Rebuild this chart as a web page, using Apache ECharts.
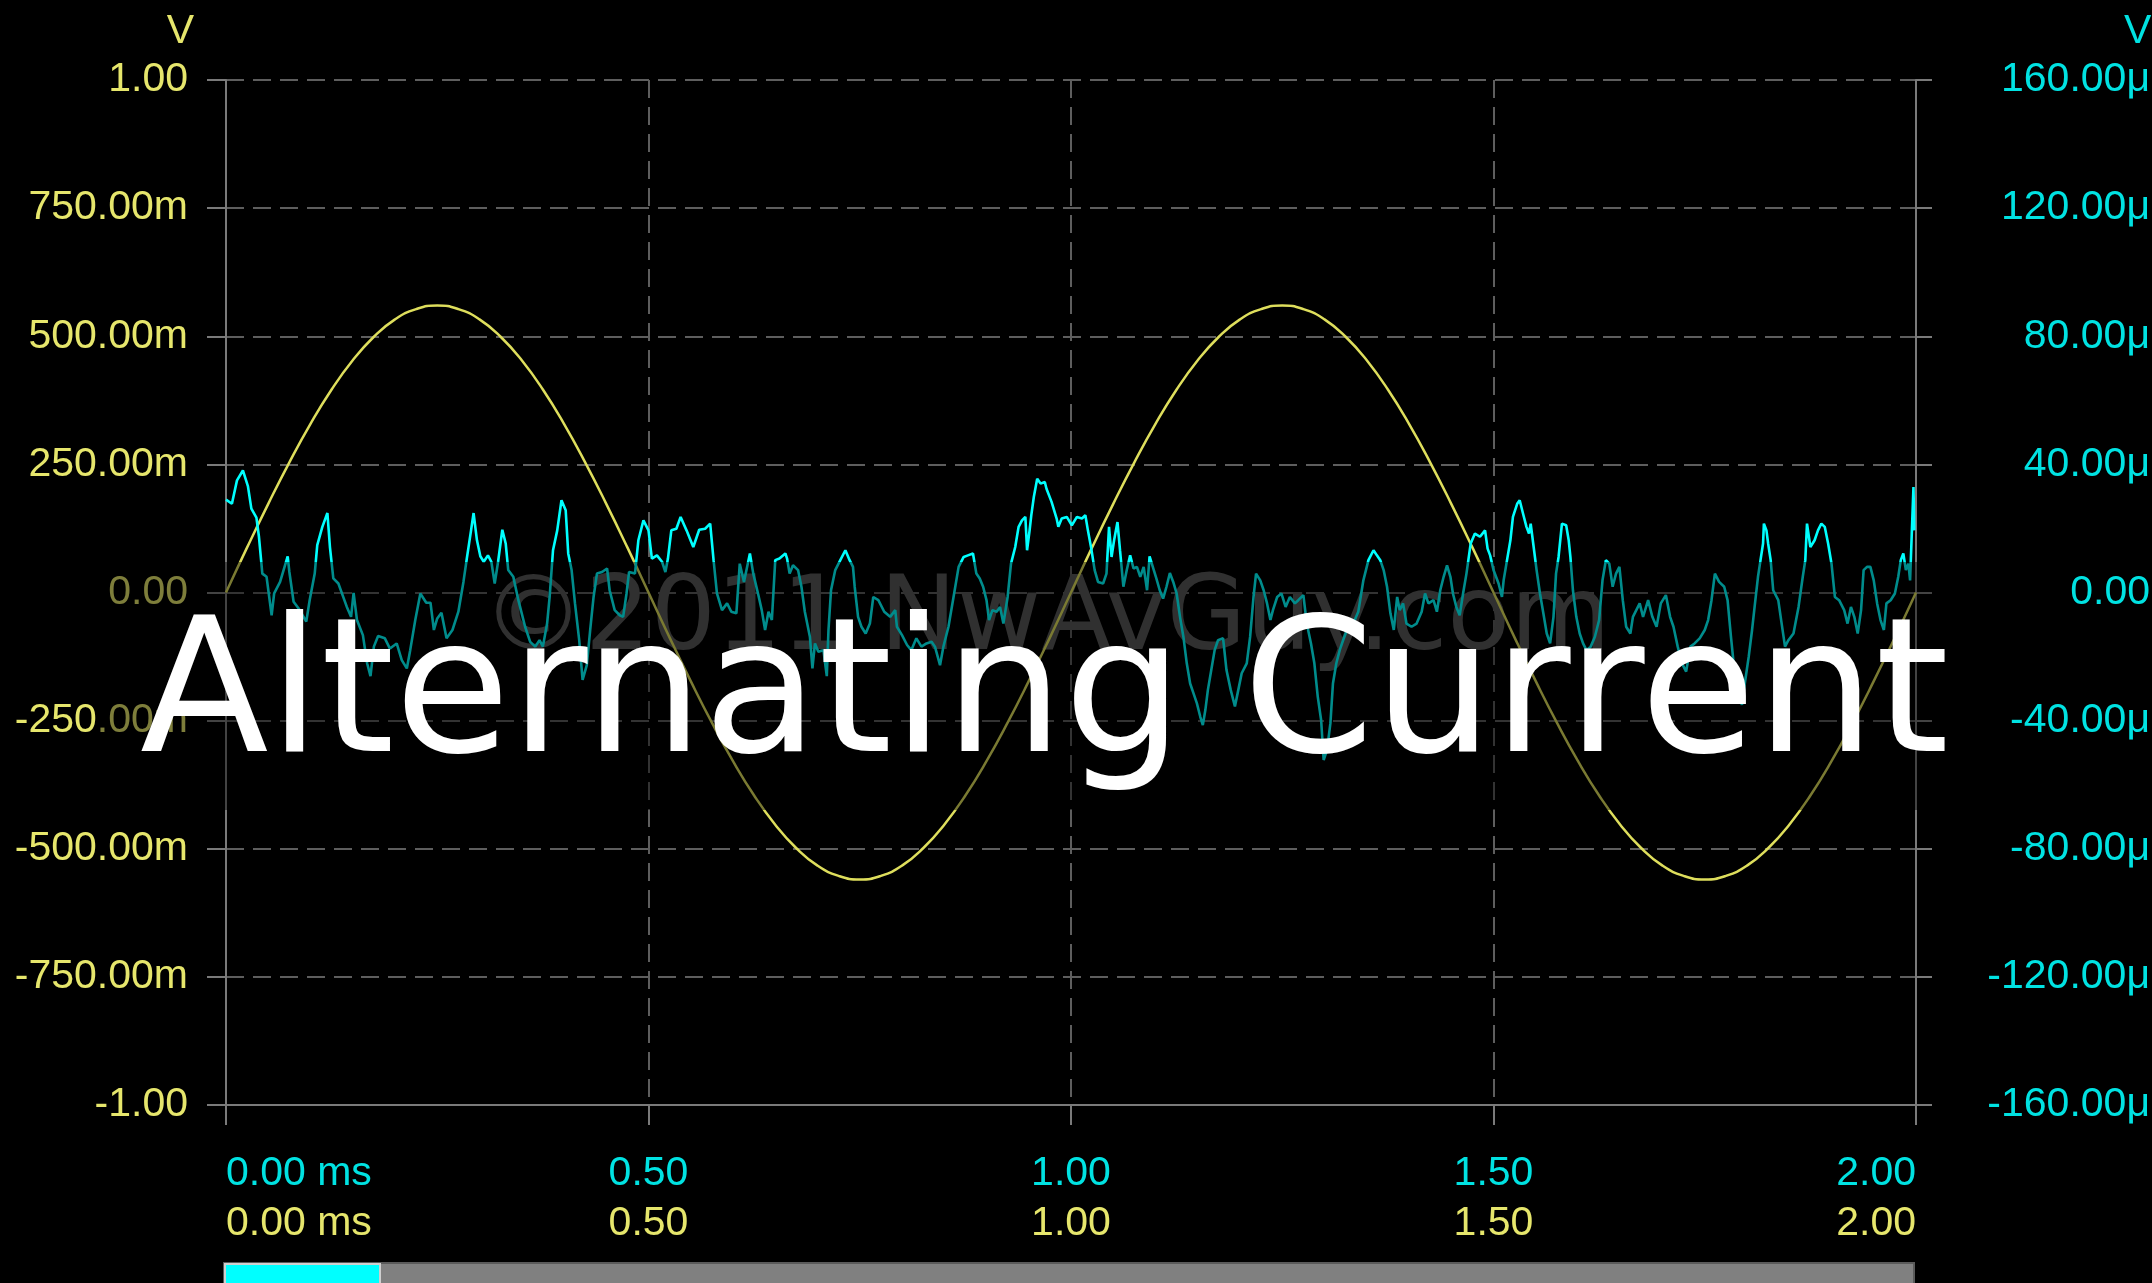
<!DOCTYPE html>
<html>
<head>
<meta charset="utf-8">
<title>Alternating Current</title>
<script src="https://cdn.jsdelivr.net/npm/echarts/dist/echarts.min.js"></script>
<style>
  html, body { margin: 0; padding: 0; background: #000; }
  #chart { width: 2152px; height: 1283px; }
</style>
</head>
<body>
<div id="chart"></div>
<script>
// Channel A: 1 kHz sine (volts, left axis)
const sineStepMs = 0.025;
const sineVolts = [
  0, 0.088, 0.173, 0.254, 0.329, 0.396, 0.453, 0.499, 0.533, 0.553,
  0.560, 0.553, 0.533, 0.499, 0.453, 0.396, 0.329, 0.254, 0.173, 0.088,
  0, -0.088, -0.173, -0.254, -0.329, -0.396, -0.453, -0.499, -0.533, -0.553,
  -0.560, -0.553, -0.533, -0.499, -0.453, -0.396, -0.329, -0.254, -0.173, -0.088,
  0, 0.088, 0.173, 0.254, 0.329, 0.396, 0.453, 0.499, 0.533, 0.553,
  0.560, 0.553, 0.533, 0.499, 0.453, 0.396, 0.329, 0.254, 0.173, 0.088,
  0, -0.088, -0.173, -0.254, -0.329, -0.396, -0.453, -0.499, -0.533, -0.553,
  -0.560, -0.553, -0.533, -0.499, -0.453, -0.396, -0.329, -0.254, -0.173, -0.088,
  0
];

// Channel B: residual noise (microvolts, right axis)
const noiseTimeMs = [
  0.000, 0.007, 0.013, 0.020, 0.026, 0.030, 0.036, 0.039, 0.043, 0.048,
  0.054, 0.057, 0.064, 0.073, 0.075, 0.080, 0.086, 0.095, 0.099, 0.105,
  0.108, 0.114, 0.120, 0.123, 0.127, 0.133, 0.143, 0.148, 0.151, 0.155,
  0.162, 0.167, 0.171, 0.175, 0.180, 0.188, 0.194, 0.202, 0.208, 0.214,
  0.218, 0.224, 0.230, 0.237, 0.242, 0.246, 0.250, 0.255, 0.261, 0.268,
  0.275, 0.281, 0.285, 0.290, 0.293, 0.297, 0.301, 0.305, 0.310,
  0.314, 0.318, 0.322, 0.327, 0.331, 0.334, 0.340, 0.346, 0.354, 0.360,
  0.366, 0.371, 0.375, 0.380, 0.383, 0.387, 0.392, 0.397, 0.402, 0.405,
  0.409, 0.413, 0.418, 0.422, 0.427, 0.431, 0.435, 0.439, 0.445, 0.451,
  0.454, 0.460, 0.466, 0.470, 0.474, 0.477, 0.484, 0.488, 0.494, 0.500,
  0.504, 0.510, 0.516, 0.520, 0.523, 0.527, 0.533, 0.538, 0.545, 0.553,
  0.560, 0.567, 0.573, 0.577, 0.581, 0.587, 0.593, 0.598, 0.604, 0.608,
  0.613, 0.620, 0.624, 0.630, 0.634, 0.638,
  0.642, 0.646, 0.650, 0.655, 0.662, 0.664, 0.667, 0.671, 0.677, 0.681,
  0.685, 0.691, 0.694, 0.697, 0.701, 0.707, 0.711, 0.713, 0.716, 0.721,
  0.727, 0.733, 0.738, 0.742, 0.744, 0.748, 0.752, 0.757, 0.762, 0.766,
  0.772, 0.779, 0.786, 0.792, 0.794, 0.800, 0.806, 0.811, 0.817, 0.823,
  0.829, 0.835, 0.839, 0.845, 0.849, 0.855, 0.861, 0.867, 0.873, 0.878,
  0.884, 0.888, 0.892, 0.896, 0.900, 0.903, 0.907, 0.912, 0.916, 0.920,
  0.925, 0.929, 0.934, 0.938, 0.942, 0.946, 0.948, 0.951, 0.953, 0.956,
  0.960, 0.964, 0.969,
  0.971, 0.977, 0.983, 0.985, 0.989, 0.995, 1.001, 1.007, 1.013, 1.017,
  1.020, 1.024, 1.028, 1.032, 1.038, 1.042, 1.045, 1.048, 1.051, 1.055,
  1.058, 1.062, 1.066, 1.070, 1.074, 1.078, 1.082, 1.086, 1.090, 1.093,
  1.098, 1.101, 1.105, 1.109, 1.113, 1.117, 1.121, 1.125, 1.129, 1.133,
  1.137, 1.141, 1.145, 1.149, 1.153, 1.156, 1.159, 1.162, 1.166, 1.170,
  1.174, 1.180, 1.184, 1.189, 1.194, 1.198, 1.202, 1.208, 1.212, 1.216,
  1.219, 1.224, 1.228, 1.232, 1.236, 1.239, 1.244, 1.249, 1.254, 1.259,
  1.265, 1.269, 1.275, 1.279, 1.284, 1.288, 1.292, 1.296, 1.299,
  1.303, 1.307, 1.310, 1.314, 1.318, 1.322, 1.328, 1.334, 1.340, 1.346,
  1.352, 1.358, 1.362, 1.366, 1.370, 1.374, 1.378, 1.382, 1.386, 1.389,
  1.393, 1.397, 1.403, 1.409, 1.415, 1.419, 1.423, 1.429, 1.433, 1.437,
  1.441, 1.445, 1.449, 1.452, 1.456, 1.460, 1.464, 1.468, 1.473, 1.478,
  1.484, 1.490, 1.493, 1.496, 1.500, 1.506, 1.510, 1.512, 1.516, 1.520,
  1.523, 1.528, 1.531, 1.535, 1.539, 1.542, 1.544, 1.547, 1.551, 1.555,
  1.559, 1.563, 1.567, 1.571, 1.574, 1.577, 1.581, 1.586, 1.589, 1.591,
  1.594, 1.598, 1.602, 1.606, 1.610, 1.615, 1.620, 1.625, 1.629,
  1.633, 1.637, 1.641, 1.645, 1.649, 1.653, 1.657, 1.662, 1.665, 1.669,
  1.673, 1.677, 1.683, 1.688, 1.693, 1.698, 1.704, 1.709, 1.713, 1.718,
  1.723, 1.728, 1.733, 1.738, 1.744, 1.750, 1.754, 1.758, 1.762, 1.767,
  1.773, 1.777, 1.781, 1.785, 1.790, 1.794, 1.798, 1.802, 1.806, 1.809,
  1.813, 1.816, 1.819, 1.820, 1.823, 1.825, 1.828, 1.831, 1.837, 1.841,
  1.845, 1.849, 1.855, 1.861, 1.866, 1.869, 1.871, 1.875, 1.880, 1.884,
  1.888, 1.892, 1.896, 1.900, 1.904, 1.909, 1.915, 1.919, 1.923, 1.927,
  1.931, 1.935, 1.938, 1.942, 1.946, 1.950, 1.954, 1.958, 1.962, 1.965,
  1.970, 1.975, 1.979, 1.982, 1.985, 1.988, 1.991, 1.993, 1.995, 1.997,
  1.998
];
const noiseMicroVolts = [
  29.0, 27.7, 35.0, 38.1, 33.1, 26.2, 23.4, 17.4, 5.9, 4.9,
  -7.1, -0.3, 3.3, 11.3, 6.4, -2.9, -5.0, -9.1, -2.4, 5.9,
  14.8, 20.5, 24.8, 14.2, 4.4, 2.8, -4.5, -7.6, -0.1, -8.6,
  -13.3, -22.1, -26.1, -16.9, -13.6, -14.3, -17.5, -15.9, -21.1, -23.7,
  -18.0, -8.6, -0.3, -3.2, -3.2, -11.7, -8.1, -6.3, -14.3, -11.7,
  -6.0, 3.3, 10.6, 19.4, 24.8, 16.3, 11.3, 9.6, 11.6,
  9.6, 2.8, 9.6, 19.6, 15.3, 7.0, 4.9, -2.4, -10.7, -15.4,
  -16.9, -14.9, -16.9, -9.7, -1.4, 13.2, 19.4, 28.8, 25.7, 12.2,
  7.0, -3.4, -14.9, -27.3, -22.7, -11.7, -1.4, 5.9, 6.4, 7.5,
  0.7, -5.5, -7.1, -7.6, -0.3, 6.4, 5.9, 16.3, 22.5, 19.4,
  10.6, 11.6, 9.6, 6.4, 10.6, 19.4, 19.9, 23.6, 19.4, 14.2,
  19.6, 19.9, 21.5, 10.1, -0.3, -5.5, -3.4, -6.0, -6.5, 9.0,
  3.3, 12.2, 5.9, -0.8, -5.5, -11.7,
  -6.0, -8.6, 10.1, 10.6, 12.2, 10.6, 5.9, 8.5, 7.0, 1.8,
  -6.0, -13.8, -23.7, -15.9, -18.5, -18.0, -26.1, -11.7, 0.7, 7.0,
  10.1, 13.2, 10.1, 8.0, 1.8, -7.6, -10.7, -12.8, -9.7, -1.4,
  -2.4, -6.0, -7.6, -5.5, -10.7, -13.3, -16.4, -18.0, -14.3, -16.9,
  -15.9, -15.4, -16.9, -22.7, -16.9, -10.7, -1.4, 8.0, 11.1, 11.6,
  12.2, 5.9, 4.4, 1.8, -2.4, -8.6, -5.5, -6.0, -4.5, -9.7,
  -1.4, 9.0, 14.2, 20.5, 22.5, 23.6, 13.2, 19.4, 24.1, 29.8,
  35.5, 34.0, 34.5,
  32.4, 28.3, 23.1, 20.5, 23.1, 23.6, 21.0, 23.6, 23.1, 24.1,
  19.4, 13.7, 7.0, 3.3, 2.8, 5.9, 20.5, 11.1, 16.3, 22.0,
  13.2, 1.8, 7.0, 11.6, 7.5, 8.0, 4.9, 8.0, 0.7, 11.3,
  7.0, 4.4, 0.7, -1.9, 1.8, 6.1, 3.3, -0.3, -7.6, -13.8,
  -22.1, -28.4, -31.5, -34.6, -38.8, -41.4, -36.7, -30.4, -24.2, -18.0,
  -14.9, -14.3, -24.2, -30.4, -35.6, -30.4, -25.2, -22.1, -13.8, -1.4,
  5.9, 3.8, 0.7, -3.4, -8.6, -5.5, -1.4, -0.3, -4.5, -1.4,
  -3.4, -2.4, -0.8, -9.7, -15.9, -22.1, -32.5, -39.8, -52.3,
  -49.1, -40.8, -28.4, -22.1, -18.0, -14.9, -10.7, -9.7, -6.0, 3.8,
  10.1, 13.2, 11.6, 10.1, 7.0, 1.8, -6.5, -11.7, -1.4, -5.5,
  -3.4, -9.7, -10.7, -9.7, -6.0, -0.3, -3.4, -2.4, -6.0, 0.7,
  4.9, 8.5, 4.9, -0.3, -4.5, -7.1, -0.3, 5.9, 15.3, 18.4,
  17.4, 19.4, 13.7, 11.6, 7.0, 2.8, -1.4, 3.8, 10.1, 16.3,
  23.6, 27.7, 28.8, 24.6, 20.5, 18.4, 21.5, 15.3, 7.0, -0.3,
  -6.5, -12.8, -15.9, -7.6, 5.9, 11.1, 21.5, 21.0, 16.3, 11.1,
  0.7, -7.6, -12.8, -15.9, -18.0, -16.9, -13.8, -8.6, 3.8,
  10.1, 9.0, 1.8, 5.9, 8.0, -2.4, -10.7, -12.8, -7.6, -5.5,
  -3.4, -7.6, -2.4, -7.6, -10.7, -3.4, -0.8, -7.6, -10.7, -16.9,
  -22.1, -24.7, -16.9, -15.9, -14.3, -11.7, -8.6, -2.4, 5.9, 3.3,
  1.8, -2.4, -13.8, -24.2, -30.4, -35.1, -27.3, -20.1, -11.7, -4.5,
  4.9, 10.1, 15.3, 21.5, 19.4, 15.3, 10.1, 0.7, -2.4, -9.7,
  -16.9, -14.9, -12.8, -4.5, 4.9, 10.1, 21.5, 14.2, 16.3, 19.4,
  21.5, 20.5, 15.3, 9.0, -1.4, -2.4, -5.5, -9.7, -4.5, -7.6,
  -12.8, -5.5, 7.0, 8.0, 8.0, 3.8, -3.4, -8.6, -11.7, -3.4,
  -2.4, -0.3, 4.9, 10.1, 12.2, 7.0, 9.0, 3.8, 18.4, 32.9,
  19.4
];

// Axis ticks and their printed labels
const timeTicks = [0, 0.5, 1, 1.5, 2];
const timeLabels = ['0.00 ms', '0.50', '1.00', '1.50', '2.00'];
const voltTicks = [-1, -0.75, -0.5, -0.25, 0, 0.25, 0.5, 0.75, 1];
const voltLabels = ['-1.00', '-750.00m', '-500.00m', '-250.00m', '0.00', '250.00m', '500.00m', '750.00m', '1.00'];
const microTicks = [-160, -120, -80, -40, 0, 40, 80, 120, 160];
const microLabels = ['-160.00\u03bc', '-120.00\u03bc', '-80.00\u03bc', '-40.00\u03bc', '0.00', '40.00\u03bc', '80.00\u03bc', '120.00\u03bc', '160.00\u03bc'];

const YELLOW_TEXT = '#e6e66c';
const YELLOW_LINE = '#dede5c';
const CYAN_TEXT = '#00e2e2';
const CYAN_LINE = '#00ffff';
const AXIS_GRAY = '#7a7a7a';
const GRID_GRAY = '#5e5e5e';
const LABEL_FONT = '"Liberation Sans", Arial, sans-serif';

function lookup(ticks, labels) {
  return function (v) {
    const i = ticks.findIndex(t => Math.abs(t - v) < 1e-9);
    return i < 0 ? '' : labels[i];
  };
}

const sineData = sineVolts.map((v, i) => [i * sineStepMs, v]);
const noiseData = noiseTimeMs.map((t, i) => [t, noiseMicroVolts[i]]);

const chart = echarts.init(document.getElementById('chart'), null, { renderer: 'canvas' });

chart.setOption({
  backgroundColor: '#000',
  animation: false,
  grid: { left: 226, right: 236, top: 80, bottom: 178, containLabel: false, outerBoundsMode: 'none' },
  xAxis: [
    {
      type: 'value', min: 0, max: 2, interval: 0.5, position: 'bottom',
      axisLine: { show: true, onZero: false, lineStyle: { color: AXIS_GRAY, width: 2 } },
      axisTick: { show: true, length: 20, lineStyle: { color: AXIS_GRAY, width: 2 } },
      splitLine: { show: true, lineStyle: { color: GRID_GRAY, width: 2, type: [18, 9] } },
      axisLabel: {
        color: CYAN_TEXT, fontSize: 41, fontFamily: LABEL_FONT, margin: 48,
        formatter: lookup(timeTicks, timeLabels),
        alignMinLabel: 'left', alignMaxLabel: 'right'
      }
    },
    {
      type: 'value', min: 0, max: 2, interval: 0.5, position: 'bottom', offset: 50,
      axisLine: { show: false }, axisTick: { show: false }, splitLine: { show: false },
      axisLabel: {
        color: YELLOW_TEXT, fontSize: 41, fontFamily: LABEL_FONT, margin: 48,
        formatter: lookup(timeTicks, timeLabels),
        alignMinLabel: 'left', alignMaxLabel: 'right'
      }
    }
  ],
  yAxis: [
    {
      type: 'value', min: -1, max: 1, interval: 0.25, position: 'left',
      name: 'V', nameLocation: 'end', nameGap: 48,
      nameTextStyle: { color: YELLOW_TEXT, fontSize: 41, fontFamily: LABEL_FONT, align: 'right', verticalAlign: 'middle', padding: [0, 32, 0, 0] },
      axisLine: { show: true, onZero: false, lineStyle: { color: AXIS_GRAY, width: 2 } },
      axisTick: { show: true, length: 19, lineStyle: { color: AXIS_GRAY, width: 2 } },
      splitLine: { show: true, lineStyle: { color: GRID_GRAY, width: 2, type: [18, 9] } },
      axisLabel: { color: YELLOW_TEXT, fontSize: 41, fontFamily: LABEL_FONT, margin: 38, padding: [4, 0, 0, 0], formatter: lookup(voltTicks, voltLabels) }
    },
    {
      type: 'value', min: -160, max: 160, interval: 40, position: 'right',
      name: 'V', nameLocation: 'end', nameGap: 48,
      nameTextStyle: { color: CYAN_TEXT, fontSize: 41, fontFamily: LABEL_FONT, align: 'left', verticalAlign: 'middle', padding: [0, 0, 0, 208] },
      axisLine: { show: true, onZero: false, lineStyle: { color: AXIS_GRAY, width: 2 } },
      axisTick: { show: true, length: 16, lineStyle: { color: AXIS_GRAY, width: 2 } },
      splitLine: { show: false },
      axisLabel: { color: CYAN_TEXT, fontSize: 41, fontFamily: LABEL_FONT, margin: 234, align: 'right', padding: [4, 0, 0, 0], formatter: lookup(microTicks, microLabels) }
    }
  ],
  series: [
    {
      name: 'Channel A', type: 'line', xAxisIndex: 0, yAxisIndex: 0,
      data: sineData, showSymbol: false, smooth: true,
      lineStyle: { color: YELLOW_LINE, width: 2.5 }, z: 3
    },
    {
      name: 'Channel B', type: 'line', xAxisIndex: 0, yAxisIndex: 1,
      data: noiseData, showSymbol: false,
      lineStyle: { color: CYAN_LINE, width: 2.6 }, z: 4
    }
  ],
  graphic: [
    {
      type: 'text', z: 1, silent: true, x: 482, y: 622,
      style: {
        text: '\u00a92011 NwAvGuy.com', font: '103px "DejaVu Sans"', fill: '#585858',
        align: 'left', verticalAlign: 'middle', shadowBlur: 8, shadowColor: '#585858'
      }
    },
    {
      type: 'rect', z: 10, silent: true,
      shape: { x: 100, y: 562, width: 1870, height: 248 },
      style: { fill: 'rgba(0,0,0,0.45)' }
    },
    {
      type: 'text', z: 11, silent: true, x: 140, y: 702,
      style: {
        text: 'Alternating Current', font: '188px "DejaVu Sans"', fill: '#ffffff',
        align: 'left', verticalAlign: 'middle'
      }
    },
    {
      type: 'rect', z: 1, silent: true,
      shape: { x: 224, y: 1263, width: 1690, height: 24 },
      style: { fill: '#808080', stroke: '#5a5a5a', lineWidth: 2 }
    },
    {
      type: 'rect', z: 2, silent: true,
      shape: { x: 225, y: 1264, width: 155, height: 24 },
      style: { fill: '#00ffff', stroke: '#cfcfcf', lineWidth: 2 }
    }
  ]
});
</script>
</body>
</html>
